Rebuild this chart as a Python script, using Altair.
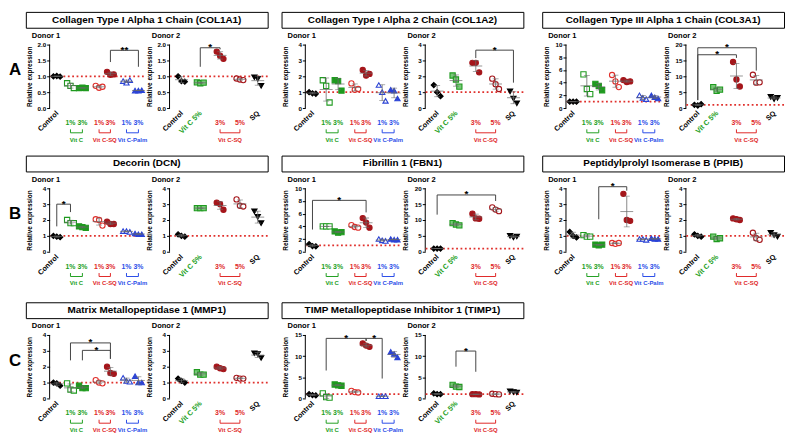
import json
import pandas as pd
import altair as alt

FONT = "Liberation Sans"

# ---------------- categories ----------------
D1_CATS = ["Control", "Vit C 1%", "Vit C 3%", "Vit C-SQ 1%", "Vit C-SQ 3%", "Vit C-Palm 1%", "Vit C-Palm 3%"]
D1_TICKS = ["Control", "1%", "3%", "1%", "3%", "1%", "3%"]
D1_GROUPS = ["", "Vit C", "Vit C", "Vit C-SQ", "Vit C-SQ", "Vit C-Palm", "Vit C-Palm"]
D2_CATS = ["Control", "Vit C 5%", "Vit C-SQ 3%", "Vit C-SQ 5%", "SQ"]
D2_TICKS = ["Control", "Vit C 5%", "3%", "5%", "SQ"]
D2_GROUPS = ["", "", "Vit C-SQ", "Vit C-SQ", ""]

# ---------------- values (3 replicates per category) ----------------
COL1A1_D1 = [[1.00, 1.01, 0.99], [0.78, 0.70, 0.63], [0.63, 0.64, 0.63], [0.70, 0.64, 0.67],
             [1.14, 1.05, 1.06], [0.85, 0.80, 0.88], [0.55, 0.55, 0.56]]
COL1A1_D2 = [[1.00, 0.85, 0.83], [0.81, 0.78, 0.80], [1.78, 1.65, 1.55], [0.93, 0.90, 0.88], [0.97, 0.92, 0.70]]
COL1A2_D1 = [[1.00, 0.93, 0.90], [1.75, 1.40, 0.35], [1.75, 1.70, 1.10], [1.55, 1.15, 1.20],
             [2.40, 2.05, 2.15], [1.45, 1.00, 0.45], [1.15, 1.10, 0.60]]
COL1A2_D2 = [[1.45, 1.00, 0.75], [2.05, 1.80, 1.35], [2.85, 2.85, 2.25], [1.85, 1.50, 1.20], [1.05, 0.60, 0.30]]
COL3A1_D1 = [[1.0, 1.0, 1.0], [5.3, 3.0, 2.2], [3.8, 3.5, 2.8], [5.2, 4.2, 3.3],
             [4.4, 4.1, 4.2], [2.0, 1.6, 1.4], [2.0, 1.7, 1.5]]
COL3A1_D2 = [[1.0, 0.8, 1.2], [6.6, 5.4, 5.8], [14.5, 9.0, 6.8], [10.5, 8.0, 8.1], [3.5, 2.8, 3.2]]
DCN_D1 = [[1.00, 0.95, 0.92], [2.00, 1.80, 1.80], [1.60, 1.55, 1.50], [2.05, 2.00, 1.65],
          [1.90, 1.75, 1.75], [1.30, 1.30, 1.25], [1.15, 1.10, 1.10]]
DCN_D2 = [[1.10, 1.00, 0.95], [2.75, 2.75, 2.75], [3.10, 3.00, 2.65], [3.30, 2.90, 2.85], [2.55, 2.20, 1.80]]
FBN1_D1 = [[1.2, 0.9, 0.85], [4.0, 4.0, 4.0], [3.2, 3.0, 3.1], [4.2, 3.9, 3.8],
           [5.3, 4.6, 3.8], [2.0, 1.8, 1.7], [2.0, 1.9, 1.9]]
FBN1_D2 = [[1.0, 1.0, 1.0], [9.0, 8.6, 8.3], [12.0, 10.5, 10.4], [14.0, 13.3, 12.8], [5.0, 4.5, 4.8]]
PPIB_D1 = [[1.25, 1.00, 0.90], [1.05, 0.95, 0.95], [0.45, 0.40, 0.45], [0.55, 0.50, 0.55],
           [3.65, 2.00, 1.95], [0.80, 0.80, 0.75], [0.85, 0.80, 0.80]]
PPIB_D2 = [[1.10, 1.00, 0.95], [0.95, 0.80, 0.85], [2.10, 2.05, 2.00], [1.20, 0.85, 0.75], [1.20, 1.05, 0.95]]
MMP1_D1 = [[1.00, 0.95, 0.80], [0.95, 0.55, 0.50], [0.80, 0.65, 0.65], [1.15, 1.00, 0.95],
           [2.00, 1.60, 1.55], [1.30, 1.10, 1.05], [1.40, 1.00, 1.00]]
MMP1_D2 = [[1.25, 1.10, 1.00], [1.65, 1.50, 1.50], [2.00, 1.90, 1.85], [1.30, 1.25, 1.25], [2.85, 2.80, 2.55]]
TIMP1_D1 = [[1.0, 0.8, 0.7], [1.2, 0.3, 0.2], [3.3, 3.1, 3.0], [1.8, 1.5, 1.4],
            [13.0, 12.5, 12.2], [0.5, 0.5, 0.5], [11.0, 10.5, 9.7]]
TIMP1_D2 = [[1.2, 1.0, 1.0], [3.2, 2.8, 2.7], [1.0, 1.0, 0.95], [1.1, 1.0, 0.95], [1.7, 1.5, 1.4]]

# significance brackets: left cat, right cat, top, left-leg bottom, right-leg bottom, label
COL1A1_D1_SIG = [["Vit C-SQ 3%", "Vit C-Palm 3%", 1.82, 1.45, 1.30, "**"]]
COL1A1_D2_SIG = [["Vit C 5%", "Vit C-SQ 3%", 1.90, 1.30, 1.85, "*"]]
COL1A2_D2_SIG = [["Vit C-SQ 3%", "SQ", 3.65, 3.15, 1.60, "*"]]
COL3A1_D2_SIG = [["Control", "Vit C-SQ 5%", 19.0, 2.5, 11.8, "*"],
                 ["Control", "Vit C-SQ 3%", 16.8, 2.5, 15.8, "*"]]
DCN_D1_SIG = [["Control", "Vit C 1%", 3.0, 1.6, 2.5, "*"]]
FBN1_D1_SIG = [["Control", "Vit C-SQ 3%", 8.1, 3.5, 6.2, "*"]]
FBN1_D2_SIG = [["Control", "Vit C-SQ 5%", 17.9, 11.7, 16.0, "*"]]
PPIB_D1_SIG = [["Vit C 3%", "Vit C-SQ 3%", 4.1, 2.05, 3.85, "*"]]
MMP1_D1_SIG = [["Vit C 1%", "Vit C-SQ 3%", 3.5, 2.4, 2.5, "*"],
               ["Vit C 3%", "Vit C-SQ 3%", 3.03, 2.4, 2.5, "*"]]
TIMP1_D1_SIG = [["Vit C 1%", "Vit C-SQ 3%", 14.2, 6.6, 13.6, "*"],
                ["Vit C-SQ 3%", "Vit C-Palm 1%", 14.2, 13.6, 4.7, "*"]]
TIMP1_D2_SIG = [["Vit C 5%", "Vit C-SQ 3%", 11.2, 7.5, 6.3, "*"]]

GENE_TITLES = ["Collagen Type I Alpha 1 Chain (COL1A1)", "Collagen Type I Alpha 2 Chain (COL1A2)",
               "Collagen Type III Alpha 1 Chain (COL3A1)", "Decorin (DCN)", "Fibrillin 1 (FBN1)",
               "Peptidylprolyl Isomerase B (PPIB)", "Matrix Metallopeptidase 1 (MMP1)",
               "TIMP Metallopeptidase Inhibitor 1 (TIMP1)"]
ROW_LETTERS = ["A", "B", "C"]

# ---------------- styles / layout ----------------
BLACK = "#000000"
GREEN = "#1f9a1f"
GREEN_L = "#78c878"
RED = "#e0302c"
DRED = "#a5161b"
BLUE = "#2b43d6"
GREY = "#6a6a6a"
BRK = "#444444"
LG = "#22a022"
LR = "#e02828"
LB = "#2a4de8"

D1_STYLE = {"Control": ("diamond", BLACK, BLACK), "Vit C 1%": ("square", "white", GREEN),
            "Vit C 3%": ("square", GREEN, GREEN), "Vit C-SQ 1%": ("circle", "white", RED),
            "Vit C-SQ 3%": ("circle", DRED, DRED), "Vit C-Palm 1%": ("triangle-up", "white", BLUE),
            "Vit C-Palm 3%": ("triangle-up", BLUE, BLUE)}
D2_STYLE = {"Control": ("diamond", BLACK, BLACK), "Vit C 5%": ("square", GREEN_L, GREEN),
            "Vit C-SQ 3%": ("circle", DRED, DRED), "Vit C-SQ 5%": ("circle", "white", DRED),
            "SQ": ("triangle-down", BLACK, BLACK)}
D1_LCOL = [BLACK, LG, LG, LR, LR, LB, LB]
D2_LCOL = [BLACK, LG, LR, LR, BLACK]
GROUP_COL = {"Vit C": LG, "Vit C-SQ": LR, "Vit C-Palm": LB}

H = 64          # axis length (px)
HR = 8          # headroom above axis top
PH = H + HR
W1, W2 = 95, 99
GAP_D = 26
AXW = 24        # room left of each block's first plot
BOXW = AXW + W1 + GAP_D + W2
BOXH = 16
LEAD = 17       # room for row letters
BLOCK_GAPS = [14, 19]
ROW_GAPS = [12, 15]
SLOT1 = [0.6, 1.75, 2.75, 4.15, 5.1, 6.45, 7.45]
DOM1 = 7.9
SLOT2 = [0.6, 1.55, 2.55, 3.55, 4.45]
DOM2 = 4.95
JIT_PX = 3.4
PT = 28


def sx_expr(cats, slots, field):
    return "%s[indexof(%s, datum.%s)]" % (json.dumps(slots), json.dumps(cats), field)


def panel(donor, d, vals, sig, yspec):
    ymax, ystep, fmt = yspec
    if d == 1:
        cats, ticks, groups, styles, lcol, slots, dom, width = D1_CATS, D1_TICKS, D1_GROUPS, D1_STYLE, D1_LCOL, SLOT1, DOM1, W1
    else:
        cats, ticks, groups, styles, lcol, slots, dom, width = D2_CATS, D2_TICKS, D2_GROUPS, D2_STYLE, D2_LCOL, SLOT2, DOM2, W2
    n = int(round(ymax / ystep))
    tv = [round(ystep * k, 4) for k in range(n + 1)]
    ytop = ymax * PH / H
    xsc = alt.Scale(domain=[0, dom], nice=False, zero=False)
    ysc = alt.Scale(domain=[0, ytop], nice=False, zero=True)
    ax = alt.Axis(values=tv, format=fmt, domain=False, grid=False, title="Relative expression",
                  titleX=-17, titleY=HR + H / 2, titleAngle=270, titleAlign="center", titleBaseline="bottom",
                  tickSize=3, tickWidth=1, tickColor="black", labelFont=FONT, labelFontSize=6.3,
                  labelFontWeight="bold", labelColor="black", labelPadding=1, titleFont=FONT,
                  titleFontSize=6.5, titleFontWeight="bold", titleColor="black")

    def X(f):
        return alt.X(f + ":Q", scale=xsc, axis=None)

    def Y(f):
        return alt.Y(f + ":Q", scale=ysc, axis=ax)

    rows = [{"cat": c, "r": i, "val": v} for c, vs in zip(cats, vals) for i, v in enumerate(vs)]
    df = pd.DataFrame(rows)
    sx = sx_expr(cats, slots, "cat")
    jit = JIT_PX * dom / width
    layers = []
    layers.append(alt.Chart(pd.DataFrame({"a": [tv[0]], "b": [tv[-1]]})).mark_rule(color="black", strokeWidth=1)
                  .encode(x=alt.value(0), y=Y("a"), y2="b:Q"))
    layers.append(alt.Chart(pd.DataFrame({"ref": [1.0]})).mark_rule(color=RED, strokeDash=[1.8, 2.6], strokeWidth=1.7)
                  .encode(y=Y("ref")))
    for c in cats:
        shape, fill, stroke = styles[c]
        layers.append(alt.Chart(df).transform_filter(alt.datum.cat == c)
                      .transform_calculate(xp="%s + (datum.r - 1) * %f" % (sx, jit))
                      .mark_point(shape=shape, filled=True, fill=fill, stroke=stroke, strokeWidth=1.1, size=PT, opacity=1)
                      .encode(x=X("xp"), y=Y("val")))
    stats = (alt.Chart(df).transform_aggregate(m="mean(val)", s="stdev(val)", groupby=["cat"])
             .transform_calculate(xc=sx, lo="datum.m - datum.s", hi="datum.m + datum.s"))
    layers += [stats.mark_rule(color=GREY, strokeWidth=0.8).encode(x=X("xc"), y=Y("lo"), y2="hi:Q"),
               stats.mark_tick(orient="horizontal", size=6, thickness=0.8, color=GREY).encode(x=X("xc"), y=Y("lo")),
               stats.mark_tick(orient="horizontal", size=6, thickness=0.8, color=GREY).encode(x=X("xc"), y=Y("hi")),
               stats.mark_tick(orient="horizontal", size=13, thickness=1, color=GREY).encode(x=X("xc"), y=Y("m"))]
    if sig:
        sdf = pd.DataFrame(sig, columns=["l", "r", "top", "lb", "rb", "lab"])
        sb = (alt.Chart(sdf).transform_calculate(xl=sx_expr(cats, slots, "l"), xr=sx_expr(cats, slots, "r"))
              .transform_calculate(xm="(datum.xl + datum.xr) / 2"))
        layers += [sb.mark_rule(color=BRK, strokeWidth=1).encode(x=X("xl"), x2="xr:Q", y=Y("top")),
                   sb.mark_rule(color=BRK, strokeWidth=1).encode(x=X("xl"), y=Y("lb"), y2="top:Q"),
                   sb.mark_rule(color=BRK, strokeWidth=1).encode(x=X("xr"), y=Y("rb"), y2="top:Q"),
                   sb.mark_text(font=FONT, fontSize=10, fontWeight="bold", baseline="alphabetic", dy=2.5, color="black")
                   .encode(x=X("xm"), y=Y("top"), text="lab:N")]
    ldf = pd.DataFrame({"cat": cats, "tick": ticks, "grp": groups})
    lb = alt.Chart(ldf).transform_calculate(xc=sx)
    for c, g, col in zip(cats, groups, lcol):
        one = lb.transform_filter(alt.datum.cat == c)
        if g == "":
            layers.append(one.mark_text(font=FONT, fontSize=7.3, fontWeight="bold", angle=315, align="right",
                                        baseline="middle", color=col, dx=1)
                          .encode(x=X("xc"), y=alt.value(PH + 5), text="tick:N"))
        else:
            layers.append(one.mark_text(font=FONT, fontSize=7.0, fontWeight="bold", align="center",
                                        baseline="middle", color=col)
                          .encode(x=X("xc"), y=alt.value(PH + 15), text="tick:N"))
    seen = []
    for g in groups:
        if g and g not in seen:
            seen.append(g)
    for g in seen:
        members = [c for c, gg in zip(cats, groups) if gg == g]
        gdf = pd.DataFrame({"a": [members[0]], "b": [members[-1]], "g": [g]})
        gb = (alt.Chart(gdf).transform_calculate(xa=sx_expr(cats, slots, "a"), xb=sx_expr(cats, slots, "b"))
              .transform_calculate(xm="(datum.xa + datum.xb) / 2"))
        col = GROUP_COL[g]
        layers += [gb.mark_rule(color=col, strokeWidth=1).encode(x=X("xa"), x2="xb:Q", y=alt.value(PH + 25)),
                   gb.mark_rule(color=col, strokeWidth=1).encode(x=X("xa"), y=alt.value(PH + 21.5), y2=alt.value(PH + 25)),
                   gb.mark_rule(color=col, strokeWidth=1).encode(x=X("xb"), y=alt.value(PH + 21.5), y2=alt.value(PH + 25)),
                   gb.mark_text(font=FONT, fontSize=6.0, fontWeight="bold", align="center", baseline="middle", color=col)
                   .encode(x=X("xm"), y=alt.value(PH + 32), text="g:N")]
    return alt.layer(*layers).properties(
        width=width, height=PH,
        title=alt.TitleParams(donor, anchor="start", frame="group", dx=-18, fontSize=7.6, fontWeight="bold",
                              font=FONT, offset=-3, color="black"))


def spacer(w, h):
    return alt.Chart(pd.DataFrame({"t": [""]})).mark_text().encode(text="t:N").properties(width=w, height=h)


def box(title):
    return (alt.Chart(pd.DataFrame({"t": [title]})).mark_text(font=FONT, fontSize=10, fontWeight="bold", color="black")
            .encode(text="t:N")
            .properties(width=BOXW, height=BOXH, view=alt.ViewBackground(stroke="black", strokeWidth=1)))


def letter(t):
    return (alt.Chart(pd.DataFrame({"t": [t]})).mark_text(font=FONT, fontSize=17, fontWeight="bold", align="left",
                                                         baseline="middle", color="black")
            .encode(text="t:N", x=alt.value(0), y=alt.value(HR + 26)).properties(width=LEAD + AXW, height=PH))


Y2 = (2, 0.5, ".1f")
Y4 = (4, 1, "d")
Y10 = (10, 2, "d")
Y15 = (15, 5, "d")
Y20 = (20, 5, "d")

ROWS = [
    [(GENE_TITLES[0], COL1A1_D1, COL1A1_D2, COL1A1_D1_SIG, COL1A1_D2_SIG, Y2, Y2),
     (GENE_TITLES[1], COL1A2_D1, COL1A2_D2, [], COL1A2_D2_SIG, Y4, Y4),
     (GENE_TITLES[2], COL3A1_D1, COL3A1_D2, [], COL3A1_D2_SIG, Y10, Y20)],
    [(GENE_TITLES[3], DCN_D1, DCN_D2, DCN_D1_SIG, [], Y4, Y4),
     (GENE_TITLES[4], FBN1_D1, FBN1_D2, FBN1_D1_SIG, FBN1_D2_SIG, Y10, Y20),
     (GENE_TITLES[5], PPIB_D1, PPIB_D2, PPIB_D1_SIG, [], Y4, Y4)],
    [(GENE_TITLES[6], MMP1_D1, MMP1_D2, MMP1_D1_SIG, [], Y4, Y4),
     (GENE_TITLES[7], TIMP1_D1, TIMP1_D2, TIMP1_D1_SIG, TIMP1_D2_SIG, Y15, Y15)],
]


def row_pair(let, blocks):
    top = [spacer(LEAD, BOXH)]
    bottom = [letter(let)]
    for i, (title, v1, v2, s1, s2, y1, y2) in enumerate(blocks):
        if i > 0:
            top.append(spacer(BLOCK_GAPS[i - 1], BOXH))
            bottom.append(spacer(BLOCK_GAPS[i - 1] + AXW, PH))
        top.append(box(title))
        bottom += [panel("Donor 1", 1, v1, s1, y1), spacer(GAP_D, PH), panel("Donor 2", 2, v2, s2, y2)]
    return alt.vconcat(alt.hconcat(*top, spacing=0, bounds="flush"),
                       alt.hconcat(*bottom, spacing=0, bounds="flush"), spacing=3)


pairs = [row_pair(l, b) for l, b in zip(ROW_LETTERS, ROWS)]
chart = (alt.vconcat(alt.vconcat(pairs[0], pairs[1], spacing=ROW_GAPS[0]), pairs[2], spacing=ROW_GAPS[1])
         .properties(padding={"left": 1, "top": 1, "right": 1, "bottom": 1})
         .configure(font=FONT)
         .configure_view(stroke=None))

chart.save("out.html", embed_options={"renderer": "svg", "actions": False})
